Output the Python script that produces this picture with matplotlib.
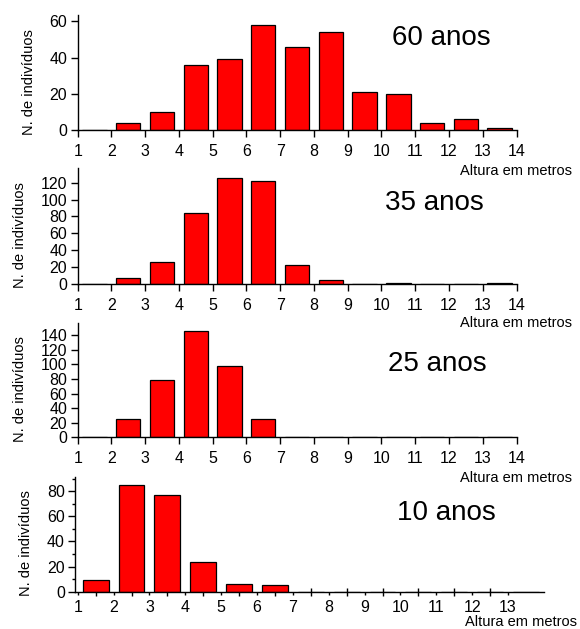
import matplotlib
matplotlib.use("Agg")
import matplotlib.pyplot as plt
import numpy as np
from matplotlib.ticker import MultipleLocator

plt.rcParams['font.family'] = ['Liberation Sans', 'DejaVu Sans']

# classes de altura (m): limite inferior de cada classe
classe_inicio = np.arange(1, 14)

idades = ["60 anos", "35 anos", "25 anos", "10 anos"]
n_60 = [0, 4, 10, 36, 39, 58, 46, 54, 21, 20, 4, 6, 1]
n_35 = [0, 7, 26, 84, 125, 122, 23, 5, 0, 1, 0, 0, 1]
n_25 = [0, 25, 79, 146, 98, 25, 0, 0, 0, 0, 0, 0, 0]
n_10 = [9, 85, 77, 24, 6.5, 5.5, 0, 0, 0, 0, 0, 0, 0]
contagens = [n_60, n_35, n_25, n_10]

ylabel = "N. de indivíduos"
xlabel = "Altura em metros"

W, H = 580, 629
fig = plt.figure(figsize=(W / 100, H / 100), dpi=100)


def box(left, top, right, bottom):
    return [left / W, 1 - bottom / H, (right - left) / W, (bottom - top) / H]


# caixas dos eixos em pixels (esq, topo, dir, base)
caixas = [(77.7, 15, 516.5, 130),
          (77.7, 168.3, 516.5, 284),
          (77.7, 322.7, 516.5, 437.3),
          (75.2, 476.7, 543.9, 591.7)]
y_topo = [63.5, 137, 157, 91.5]
pos_idade = [(0.716, 0.739), (0.700, 0.640), (0.707, 0.579), (0.687, 0.623)]
pos_xlabel = [(572, 175), (572, 327), (572, 482), (577, 626)]

for i, n in enumerate(contagens):
    ax = fig.add_axes(box(*caixas[i]))
    ax.bar(classe_inicio + 0.5, n, width=0.72, color='#ff0000',
           edgecolor='black', linewidth=0.9, zorder=2)

    for s in ['top', 'right']:
        ax.spines[s].set_visible(False)
    for s in ['left', 'bottom']:
        ax.spines[s].set_linewidth(1.0)

    ax.set_ylim(0, y_topo[i])
    ax.yaxis.set_major_locator(MultipleLocator(20))
    ax.tick_params(axis='y', direction='out', length=5, width=1, pad=2.5, labelsize=11.5)

    if i < 3:
        ax.set_xlim(1, 14)
        ax.set_xticks(np.arange(1, 15))
        ax.tick_params(axis='x', direction='out', length=5, width=1, pad=5, labelsize=11.5)
    else:
        ax.set_xlim(0.93, 14)
        # marcas no centro das classes, rótulos nos limites
        ax.set_xticks(classe_inicio[:12] + 0.5, labels=[""] * 12)
        ax.set_xticks(classe_inicio, labels=[str(v) for v in classe_inicio], minor=True)
        ax.tick_params(axis='x', which='major', direction='inout', length=6, width=1)
        ax.tick_params(axis='x', which='minor', direction='out', length=2, width=1,
                       pad=4, labelsize=11.5)
        ax.yaxis.set_minor_locator(MultipleLocator(10))
        ax.tick_params(axis='y', which='minor', direction='out', length=2.5, width=1)

    ax.set_ylabel(ylabel, fontsize=10.5, labelpad=10)
    ax.yaxis.label.set_y(0.42)

    ax.text(pos_idade[i][0], pos_idade[i][1], idades[i], transform=ax.transAxes,
            fontsize=20, va='baseline', ha='left')

    fig.text(pos_xlabel[i][0] / W, 1 - pos_xlabel[i][1] / H, xlabel,
             fontsize=10.5, ha='right', va='baseline')

fig.savefig("out.png", dpi=100)
